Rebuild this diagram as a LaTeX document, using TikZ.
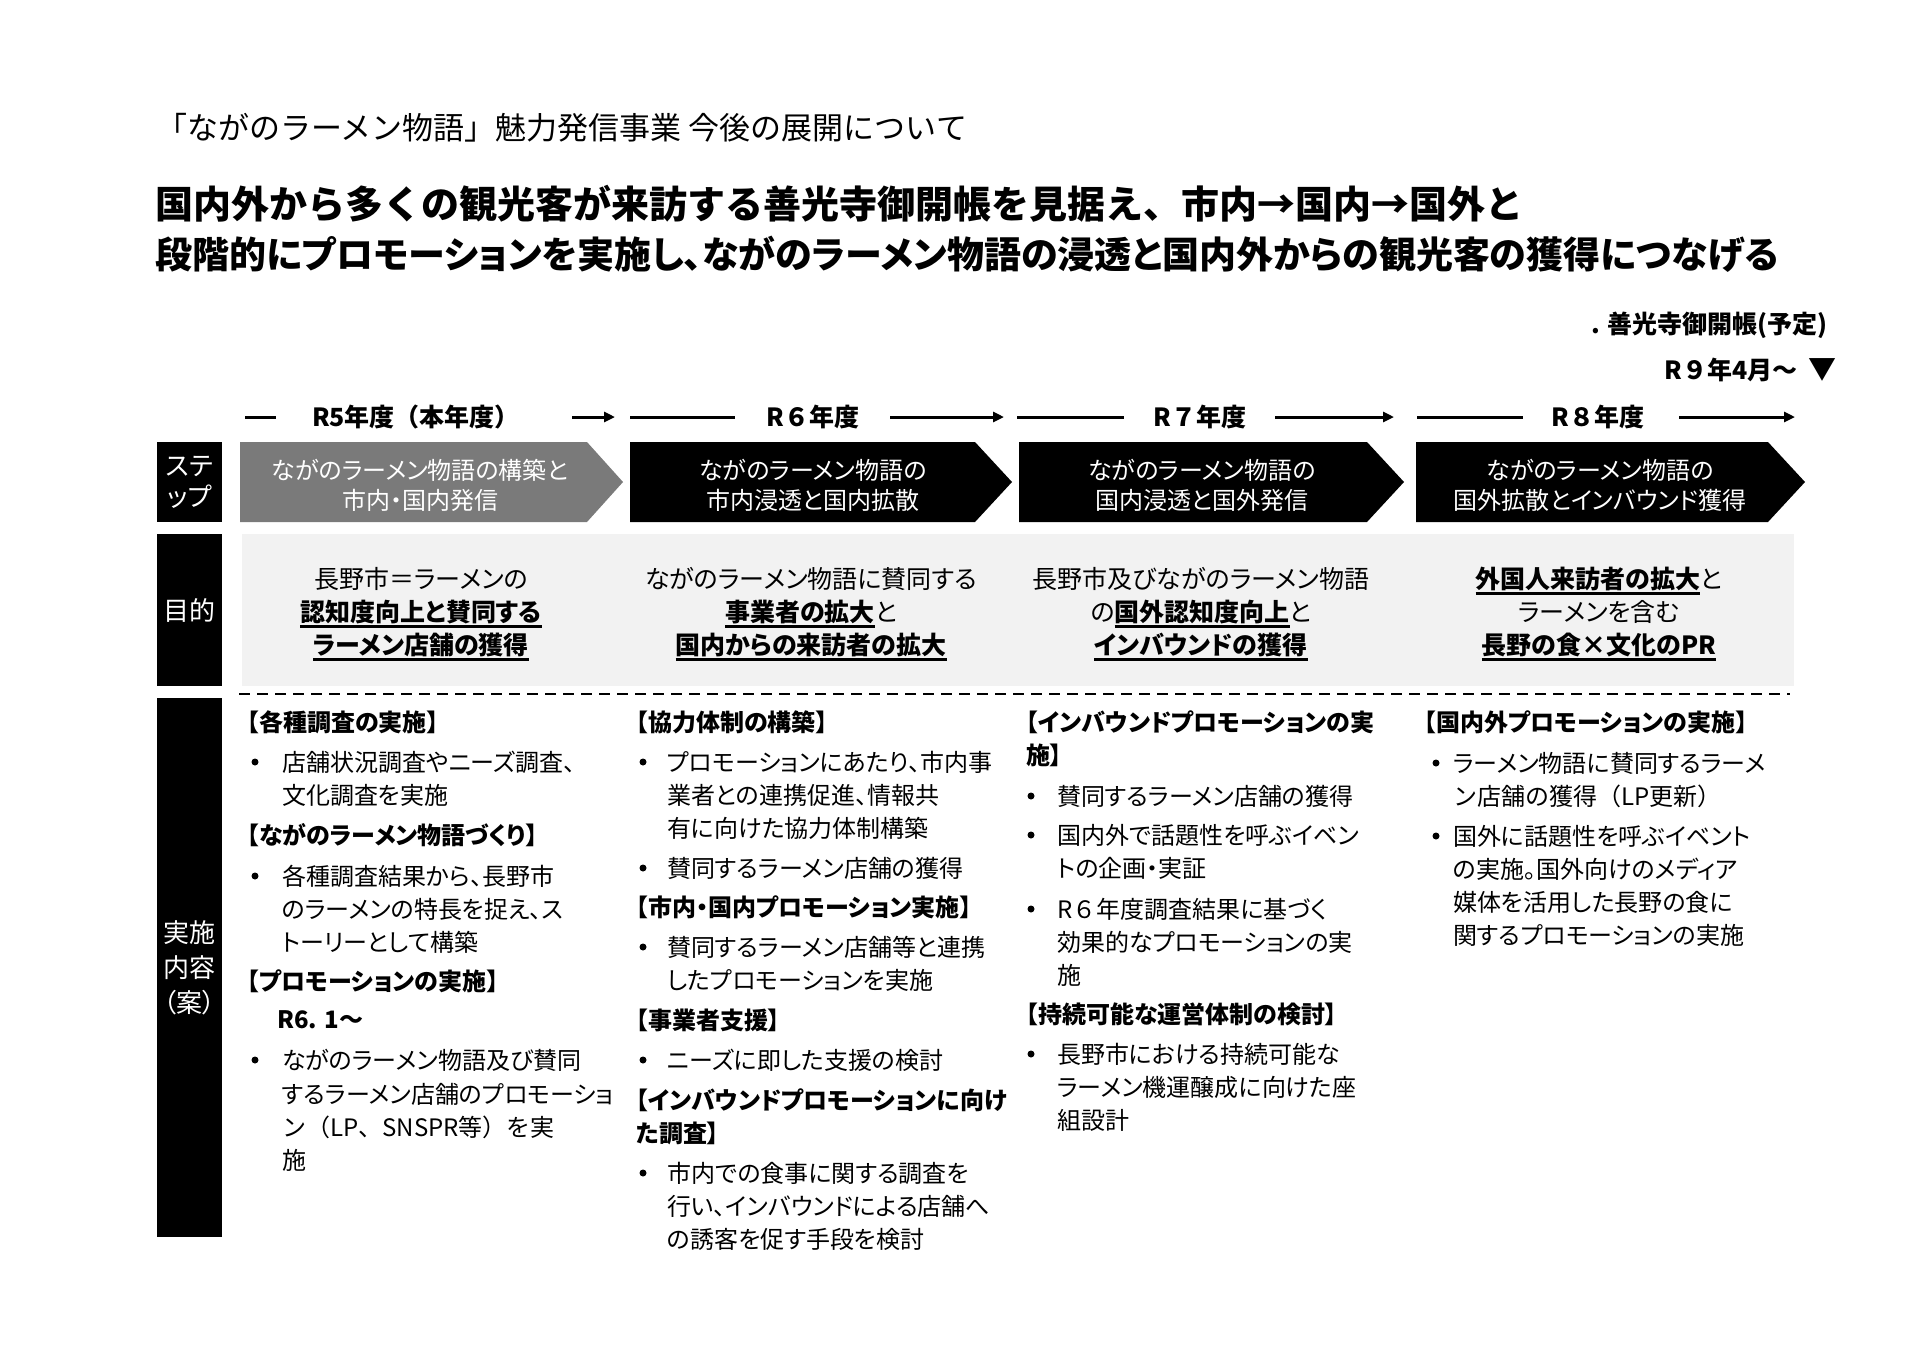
\documentclass[tikz,border=0pt]{standalone}
\usepackage{fontspec}
\setmainfont{Noto Sans CJK JP}[RawFeature=+palt]
\newfontfamily\jpn{Noto Sans CJK JP}
\usetikzlibrary{arrows.meta}
\newcommand\fsz[2]{\fontsize{#1}{#2}\selectfont}
\newcommand\ulb[1]{\setbox0\hbox{\bfseries #1}\rlap{\rule[-6pt]{\wd0}{2.2pt}}\box0}
\newcommand\np[1]{{\jpn #1}}
\newcommand\mytx[4]{\node[txt] (#1) at (#2,#3) {#4};}
\newcommand\myhd[4]{\node[hd] (#1) at (#2,#3) {#4};}
\newcommand\mybu[3]{\node[bul] (#1) at (#2,#3) {};}
\begin{document}
\begin{tikzpicture}[x=1pt,y=-1pt,
  txt/.style={anchor=west,inner sep=0pt,text height=21pt,text depth=3pt,font=\fsz{24}{30}},
  hd/.style={txt,font=\fsz{24}{30}\bfseries},
  bul/.style={circle,fill=black,inner sep=0pt,minimum size=7pt},
  lbl/.style={fill=black,text=white,inner sep=0pt,align=center,minimum width=65pt,font=\fsz{26}{31}},
  chevtxt/.style={text=white,inner sep=0pt,align=center,font=\fsz{24}{30}},
  purp/.style={inner sep=0pt,text height=22pt,text depth=3pt,font=\fsz{25}{30}},
  yr/.style={inner sep=0pt,text height=22pt,text depth=3pt,font=\jpn\fsz{25}{30}\bfseries},
  hline/.style={line width=3pt},
  harr/.style={line width=3pt,-{Triangle[length=11pt,width=10pt]}},
]
\useasboundingbox (0,0) rectangle (1920,1350);
\fill[white] (0,0) rectangle (1920,1350);

% titles
\node[anchor=west,inner sep=0pt,text height=27pt,text depth=4pt,font=\jpn\fsz{31}{36}] (t1) at (156,128) {「ながのラーメン物語」魅力発信事業 今後の展開について};
\node[anchor=west,inner sep=0pt,text height=33pt,text depth=5pt,font=\jpn\fsz{38}{44}\bfseries] (t2) at (155,204) {国内外から多くの観光客が来訪する善光寺御開帳を見据え、市内→国内→国外と};
\node[anchor=west,inner sep=0pt,text height=32pt,text depth=5pt,font=\fsz{37}{44}\bfseries] (t3) at (155,255) {段階的にプロモーションを実施し、ながのラーメン物語の浸透と国内外からの観光客の獲得につなげる};

% top right
\node[anchor=east,yr] (zk) at (1828,324) {. 善光寺御開帳(予定)};
\node[anchor=east,yr] (r9) at (1798,370) {R９年4月～};
\node[inner sep=0pt,font=\fsz{28}{30}] (tri) at (1822,370) {▼};

% year header
\node[yr] (y5) at (416,417) {R5年度（本年度）};
\node[yr] (y6) at (813,417) {R６年度};
\node[yr] (y7) at (1200,417) {R７年度};
\node[yr] (y8) at (1598,417) {R８年度};
\coordinate (a5s) at (245,417); \coordinate (a5e) at (276,417);
\coordinate (b5s) at (572,417); \coordinate (b5e) at (615,417);
\coordinate (a6s) at (630,417); \coordinate (a6e) at (735,417);
\coordinate (b6s) at (890,417); \coordinate (b6e) at (1004,417);
\coordinate (a7s) at (1017,417); \coordinate (a7e) at (1124,417);
\coordinate (b7s) at (1275,417); \coordinate (b7e) at (1394,417);
\coordinate (a8s) at (1417,417); \coordinate (a8e) at (1523,417);
\coordinate (b8s) at (1679,417); \coordinate (b8e) at (1795,417);
\draw[hline] (a5s) -- (a5e);
\draw[harr] (b5s) -- (b5e);
\draw[hline] (a6s) -- (a6e);
\draw[harr] (b6s) -- (b6e);
\draw[hline] (a7s) -- (a7e);
\draw[harr] (b7s) -- (b7e);
\draw[hline] (a8s) -- (a8e);
\draw[harr] (b8s) -- (b8e);

% row labels
\node[lbl,minimum height=80pt] (lstep) at (189.5,482) {ステ\\ップ};
\node[lbl,minimum height=152pt] (lpur) at (189.5,610) {目的};
\node[lbl,minimum height=539pt,font=\fsz{26}{35}] (limp) at (189.5,967.5) {実施\\内容\\（案）};

% chevrons
\fill[black!52] (240,442) -- (587,442) -- (623,482) -- (587,522) -- (240,522) -- cycle;
\fill[black] (630,442) -- (975,442) -- (1012,482) -- (975,522) -- (630,522) -- cycle;
\fill[black] (1019,442) -- (1367,442) -- (1404,482) -- (1367,522) -- (1019,522) -- cycle;
\fill[black] (1416,442) -- (1768,442) -- (1805,482) -- (1768,522) -- (1416,522) -- cycle;
\node[chevtxt] (c1) at (420,485) {ながのラーメン物語の構築と\\市内・国内発信};
\node[chevtxt] (c2) at (813,485) {ながのラーメン物語の\\市内浸透と国内拡散};
\node[chevtxt] (c3) at (1202,485) {ながのラーメン物語の\\国内浸透と国外発信};
\node[chevtxt] (c4) at (1600,485) {ながのラーメン物語の\\国外拡散とインバウンド獲得};

% purpose row
\fill[black!5] (242,534) rectangle (1794,686);
\node[purp] (p1a) at (421,579) {長野市＝ラーメンの};
\node[purp] (p1b) at (421,612) {\ulb{認知度向上と賛同する}};
\node[purp] (p1c) at (421,645) {\ulb{ラーメン店舗の獲得}};
\node[purp] (p2a) at (811,579) {ながのラーメン物語に賛同する};
\node[purp] (p2b) at (811,612) {\ulb{事業者の拡大}と};
\node[purp] (p2c) at (811,645) {\ulb{国内からの来訪者の拡大}};
\node[purp] (p3a) at (1201,579) {長野市及びながのラーメン物語};
\node[purp] (p3b) at (1201,612) {の\ulb{国外認知度向上}と};
\node[purp] (p3c) at (1201,645) {\ulb{インバウンドの獲得}};
\node[purp] (p4a) at (1599,579) {\ulb{外国人来訪者の拡大}と};
\node[purp] (p4b) at (1599,612) {ラーメンを含む};
\node[purp] (p4c) at (1599,645) {\ulb{長野の食×文化のPR}};

% dashed separator
\coordinate (ds) at (239,694); \coordinate (de) at (1790,694);
\draw[line width=2pt,dash pattern=on 11pt off 7pt] (ds) -- (de);

% column 1
\myhd{h11}{247}{722}{【各種調査の実施】}
\mybu{b11}{255}{762}
\mytx{t111}{282}{762}{店舗状況調査やニーズ調査、}
\mytx{t112}{282}{795}{文化調査を実施}
\myhd{h12}{247}{835}{【ながのラーメン物語づくり】}
\mybu{b12}{255}{876}
\mytx{t121}{282}{876}{各種調査結果から、長野市}
\mytx{t122}{282}{909}{のラーメンの特長を捉え、ス}
\mytx{t123}{282}{942}{トーリーとして構築}
\myhd{h13}{247}{981}{【プロモーションの実施】}
\myhd{h13r}{277}{1019}{\np{R6. 1～}}
\mybu{b13}{255}{1060}
\mytx{t131}{282}{1060}{ながのラーメン物語及び賛同}
\mytx{t132}{282}{1094}{するラーメン店舗のプロモーショ}
\mytx{t133}{282}{1127}{\np{ン（LP、SNSPR等）を実}}
\mytx{t134}{282}{1160}{施}

% column 2
\myhd{h21}{636}{722}{【協力体制の構築】}
\mybu{b21}{643}{762}
\mytx{t211}{667}{762}{プロモーションにあたり、市内事}
\mytx{t212}{667}{795}{業者との連携促進、情報共}
\mytx{t213}{667}{828}{有に向けた協力体制構築}
\mybu{b22}{643}{868}
\mytx{t221}{667}{868}{賛同するラーメン店舗の獲得}
\myhd{h22}{636}{907}{【市内・国内プロモーション実施】}
\mybu{b23}{643}{947}
\mytx{t231}{667}{947}{賛同するラーメン店舗等と連携}
\mytx{t232}{667}{980}{したプロモーションを実施}
\myhd{h23}{636}{1020}{【事業者支援】}
\mybu{b24}{643}{1060}
\mytx{t241}{667}{1060}{ニーズに即した支援の検討}
\myhd{h24}{636}{1100}{【インバウンドプロモーションに向け}
\myhd{h24b}{636}{1133}{た調査】}
\mybu{b25}{643}{1173}
\mytx{t251}{667}{1173}{市内での食事に関する調査を}
\mytx{t252}{667}{1206}{行い、インバウンドによる店舗へ}
\mytx{t253}{667}{1239}{の誘客を促す手段を検討}

% column 3
\myhd{h31}{1026}{722}{【インバウンドプロモーションの実}
\myhd{h31b}{1026}{755}{施】}
\mybu{b31}{1031}{796}
\mytx{t311}{1057}{796}{賛同するラーメン店舗の獲得}
\mybu{b32}{1031}{835}
\mytx{t321}{1057}{835}{国内外で話題性を呼ぶイベン}
\mytx{t322}{1057}{868}{トの企画・実証}
\mybu{b33}{1031}{909}
\mytx{t331}{1057}{909}{\np{R６年度}調査結果に基づく}
\mytx{t332}{1057}{942}{効果的なプロモーションの実}
\mytx{t333}{1057}{975}{施}
\myhd{h32}{1026}{1014}{【持続可能な運営体制の検討】}
\mybu{b34}{1031}{1054}
\mytx{t341}{1057}{1054}{長野市における持続可能な}
\mytx{t342}{1057}{1087}{ラーメン機運醸成に向けた座}
\mytx{t343}{1057}{1120}{組設計}

% column 4
\myhd{h41}{1424}{722}{【国内外プロモーションの実施】}
\mybu{b41}{1436}{763}
\mytx{t411}{1453}{763}{ラーメン物語に賛同するラーメ}
\mytx{t412}{1453}{796}{\np{ン店舗の獲得（LP更新）}}
\mybu{b42}{1436}{836}
\mytx{t421}{1453}{836}{国外に話題性を呼ぶイベント}
\mytx{t422}{1453}{869}{の実施。国外向けのメディア}
\mytx{t423}{1453}{902}{媒体を活用した長野の食に}
\mytx{t424}{1453}{935}{関するプロモーションの実施}
\end{tikzpicture}
\end{document}
